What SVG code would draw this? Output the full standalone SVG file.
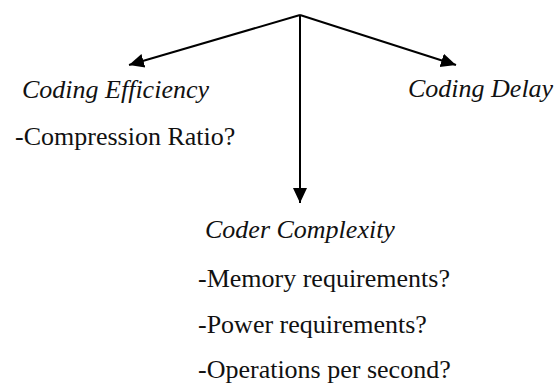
<svg xmlns="http://www.w3.org/2000/svg" width="559" height="383" viewBox="0 0 559 383">
  <style>
    .edge { stroke: #000; stroke-width: 2; fill: none; marker-end: url(#arrow); }
    .title { font-family: "Liberation Serif", "Times New Roman", serif; font-style: italic; font-size: 26px; fill: #111; }
    .item { font-family: "Liberation Serif", "Times New Roman", serif; font-size: 26px; fill: #111; }
  </style>
  <defs>
    <marker id="arrow" markerUnits="userSpaceOnUse" markerWidth="16" markerHeight="16" viewBox="0 0 16 16" refX="15" refY="8" orient="auto">
      <path d="M0,1 L15,8 L0,15 Z" fill="#000"/>
    </marker>
  </defs>
  <rect width="559" height="383" fill="#fff"/>

  <g id="connectors">
    <path class="edge" d="M300,15 L129,65"/>
    <path class="edge" d="M300,15 L456,65"/>
    <path class="edge" d="M300,15 L300,203"/>
  </g>

  <g id="coding-efficiency">
    <text class="title" x="22" y="98">Coding Efficiency</text>
    <text class="item" x="15" y="145">-Compression Ratio?</text>
  </g>

  <g id="coding-delay">
    <text class="title" x="408" y="97">Coding Delay</text>
  </g>

  <g id="coder-complexity">
    <text class="title" x="205" y="238">Coder Complexity</text>
    <text class="item" x="198" y="287">-Memory requirements?</text>
    <text class="item" x="198" y="333">-Power requirements?</text>
    <text class="item" x="198" y="378">-Operations per second?</text>
  </g>
</svg>
